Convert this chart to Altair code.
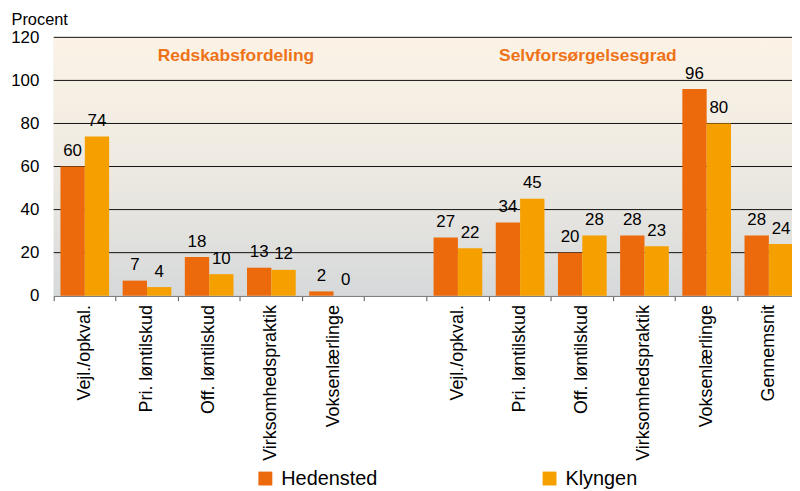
import json
import altair as alt
import pandas as pd

# ---- data ----
categories = ["Vejl./opkval.", "Pri. løntilskud", "Off. løntilskud", "Virksomhedspraktik",
              "Voksenlærlinge", "",
              "Vejl./opkval.", "Pri. løntilskud", "Off. løntilskud", "Virksomhedspraktik",
              "Voksenlærlinge", "Gennemsnit"]
hedensted = [60, 7, 18, 13, 2, None, 27, 34, 20, 28, 96, 28]
klyngen = [74, 4, 10, 12, 0, None, 22, 45, 28, 23, 80, 24]
series = ["Hedensted", "Klyngen"]
colors = ["#EC6A0C", "#F6A000"]
y_ticks = [0, 20, 40, 60, 80, 100, 120]
grid_values = [20, 40, 60, 80, 100, 120]
group_titles = ["Redskabsfordeling", "Selvforsørgelsesgrad"]
group_title_slots = [2, 8]

slots = list(range(len(categories)))
rows = []
for i, (h, k) in enumerate(zip(hedensted, klyngen)):
    if h is None:
        continue
    rows.append({"slot": i, "series": series[0], "value": h})
    rows.append({"slot": i, "series": series[1], "value": k})
df = pd.DataFrame(rows)

FONT = "Liberation Sans"
W, H = 743, 260

xscale = alt.Scale(domain=slots, range=[0, 751], paddingInner=0, paddingOuter=0)
yscale = alt.Scale(domain=[0, 120], nice=False, zero=True)
offscale = alt.Scale(paddingOuter=0.277, paddingInner=0)
label_expr = json.dumps(categories, ensure_ascii=False) + "[datum.value]"

y_axis = alt.Axis(values=y_ticks, grid=False, domain=False, ticks=False,
                  labelFontSize=17, labelColor="black", labelPadding=15,
                  title="Procent", titleAngle=0, titleAlign="left",
                  titleBaseline="alphabetic", titleX=-43, titleY=-13,
                  titleFontSize=16.5, titleFontWeight="normal", titleColor="black",
                  titleFont=FONT, labelFont=FONT)

gradient = alt.Gradient(
    gradient="linear",
    stops=[alt.GradientStop(color="#FCF3E6", offset=0),
           alt.GradientStop(color="#EEEAE2", offset=0.5),
           alt.GradientStop(color="#D6D9DA", offset=1)],
    x1=0, x2=0, y1=0, y2=1,
)

background = alt.Chart(pd.DataFrame({"a": [0]})).mark_rect(color=gradient).encode(
    x=alt.value(0), x2=alt.value("width"), y=alt.value(0), y2=alt.value("height")
)

grid = alt.Chart(pd.DataFrame({"value": grid_values})).mark_rule(color="#111111", strokeWidth=1).encode(
    y=alt.Y("value:Q", scale=yscale, axis=y_axis),
    x=alt.value(0), x2=alt.value("width"),
)

bars = alt.Chart(df).mark_bar().encode(
    x=alt.X("slot:O", scale=xscale, sort=slots,
            axis=alt.Axis(orient="bottom", labelExpr=label_expr, labelAngle=-90,
                          labelFontSize=18, labelColor="black", labelPadding=9,
                          ticks=False, domain=False, title=None, labelFont=FONT)),
    xOffset=alt.XOffset("series:N", scale=offscale, sort=series),
    y=alt.Y("value:Q", scale=yscale, axis=y_axis),
    color=alt.Color("series:N", scale=alt.Scale(domain=series, range=colors),
                    legend=alt.Legend(orient="none", legendX=203, legendY=434,
                                      direction="horizontal", title=None,
                                      symbolType="square", symbolSize=196,
                                      symbolStrokeWidth=0, labelFontSize=20,
                                      labelOffset=6, columnPadding=163, padding=0,
                                      labelFont=FONT, labelColor="black")),
)

values = alt.Chart(df).mark_text(baseline="alphabetic", dy=-10.5, fontSize=17,
                                  font=FONT, color="black").encode(
    x=alt.X("slot:O", scale=xscale, sort=slots,
            axis=alt.Axis(orient="bottom", bandPosition=0, labels=False, ticks=True,
                          tickSize=5, tickColor="#555555", domain=True,
                          domainColor="#808080", domainWidth=1.5, title=None)),
    xOffset=alt.XOffset("series:N", scale=offscale, sort=series),
    y=alt.Y("value:Q", scale=yscale, axis=y_axis),
    text=alt.Text("value:Q", format=".0f"),
)

titles_layers = []
for t, s, bp in zip(group_titles, group_title_slots, [0.93, 0.59]):
    titles_layers.append(
        alt.Chart(pd.DataFrame({"slot": [s], "t": [t], "value": [109]})).mark_text(
            fontSize=17.5, fontWeight="bold", font=FONT, color="#EE7318",
            baseline="alphabetic", align="center").encode(
            x=alt.X("slot:O", scale=xscale, bandPosition=bp, axis=None),
            y=alt.Y("value:Q", scale=yscale, axis=y_axis),
            text="t:N",
        )
    )

chart = alt.layer(background, grid, bars, values, *titles_layers).resolve_axis(
    x="independent"
).properties(
    width=W, height=H,
    padding={"left": 46, "top": 28, "right": 0, "bottom": 195},
    autosize=alt.AutoSizeParams(type="none"),
).configure_view(stroke=None).configure(font=FONT)

chart.save("out.html", embed_options={"renderer": "svg", "actions": False})
